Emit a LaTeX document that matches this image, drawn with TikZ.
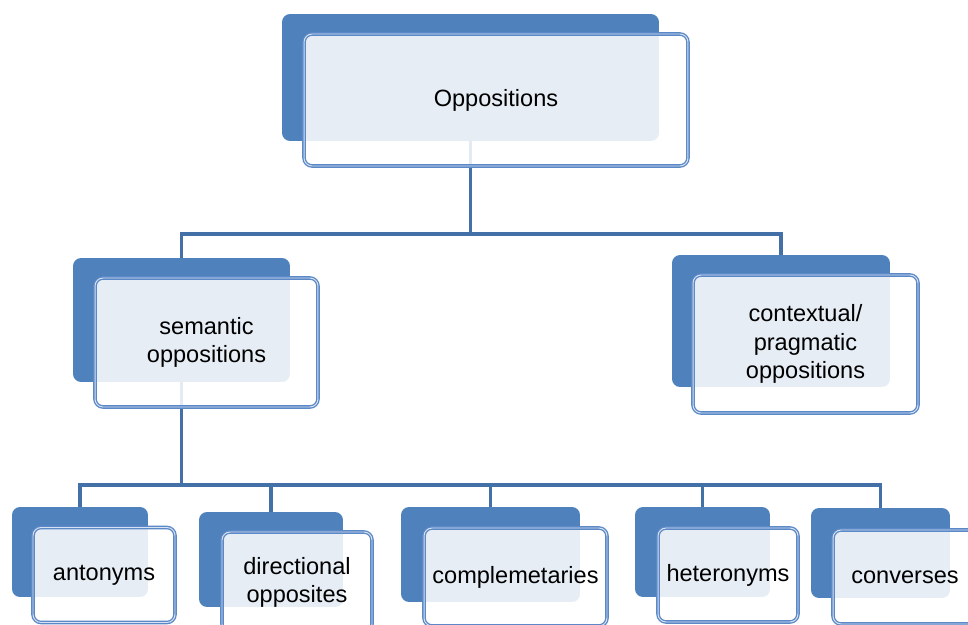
\documentclass[tikz,border=0pt]{standalone}
\usepackage{fontspec}
\setmainfont{Liberation Sans}
\usetikzlibrary{backgrounds}
\definecolor{accentblue}{HTML}{4F81BD}
\definecolor{edgeblue}{HTML}{5B88C6}
\definecolor{linkblue}{HTML}{4470A8}

\begin{document}
\begin{tikzpicture}[x=0.02cm, y=-0.02cm,
  backbox/.style={rectangle, rounded corners=0.16cm, fill=accentblue, inner sep=0pt},
  frontbox/.style={rectangle, rounded corners=0.16cm, draw=edgeblue, line width=0.75pt,
    double=white!75!edgeblue, double distance=0.55pt, fill=white, fill opacity=0.86,
    text opacity=1, align=center, inner sep=0pt, font=\fontsize{13.4}{16}\selectfont},
  conn/.style={draw=linkblue, line width=2pt}]
\clip (0,0) rectangle (968,625);

% Root
\node[backbox, minimum width=7.54cm, minimum height=2.54cm] (top) at (470.5,77.5) {};
\node[frontbox, minimum width=7.68cm, minimum height=2.64cm] (topT) at (496,100) {Oppositions};

% Second level
\node[backbox, minimum width=4.34cm, minimum height=2.48cm] (sem) at (181.5,320) {};
\node[frontbox, minimum width=4.46cm, minimum height=2.58cm] (semT) at (206.5,342.5) {semantic\\oppositions};
\node[backbox, minimum width=4.36cm, minimum height=2.64cm] (ctx) at (781,321) {};
\node[frontbox, minimum width=4.50cm, minimum height=2.76cm] (ctxT) at (805.5,344) {contextual/\\pragmatic\\oppositions};

% Third level
\node[backbox, minimum width=2.72cm, minimum height=1.80cm] (ant) at (80,552) {};
\node[frontbox, minimum width=2.84cm, minimum height=1.90cm] (antT) at (104,575) {antonyms};
\node[backbox, minimum width=2.88cm, minimum height=1.90cm] (dir) at (271,559.5) {};
\node[frontbox, minimum width=3.00cm, minimum height=2.00cm] (dirT) at (297,582) {directional\\opposites};
\node[backbox, minimum width=3.58cm, minimum height=1.90cm] (comp) at (490.5,554.5) {};
\node[frontbox, minimum width=3.66cm, minimum height=1.96cm] (compT) at (515.5,577) {complemetaries};
\node[backbox, minimum width=2.70cm, minimum height=1.80cm] (het) at (702.5,552) {};
\node[frontbox, minimum width=2.80cm, minimum height=1.88cm] (hetT) at (728,575) {heteronyms};
\node[backbox, minimum width=2.78cm, minimum height=1.80cm] (conv) at (880.5,553) {};
\node[frontbox, minimum width=2.88cm, minimum height=1.88cm] (convT) at (905,577) {converses};

% Connectors
\coordinate (j1) at (470.5,234);
\coordinate (j2) at (181.5,485);
\begin{scope}[on background layer]
  \draw[conn] (top.south) -- (j1) -| (sem.north);
  \draw[conn] (j1) -| (ctx.north);
  \draw[conn] (sem.south) -- (j2);
  \foreach \n in {ant,dir,comp,het,conv}
    \draw[conn] (j2) -| (\n.north);
\end{scope}
\end{tikzpicture}
\end{document}
